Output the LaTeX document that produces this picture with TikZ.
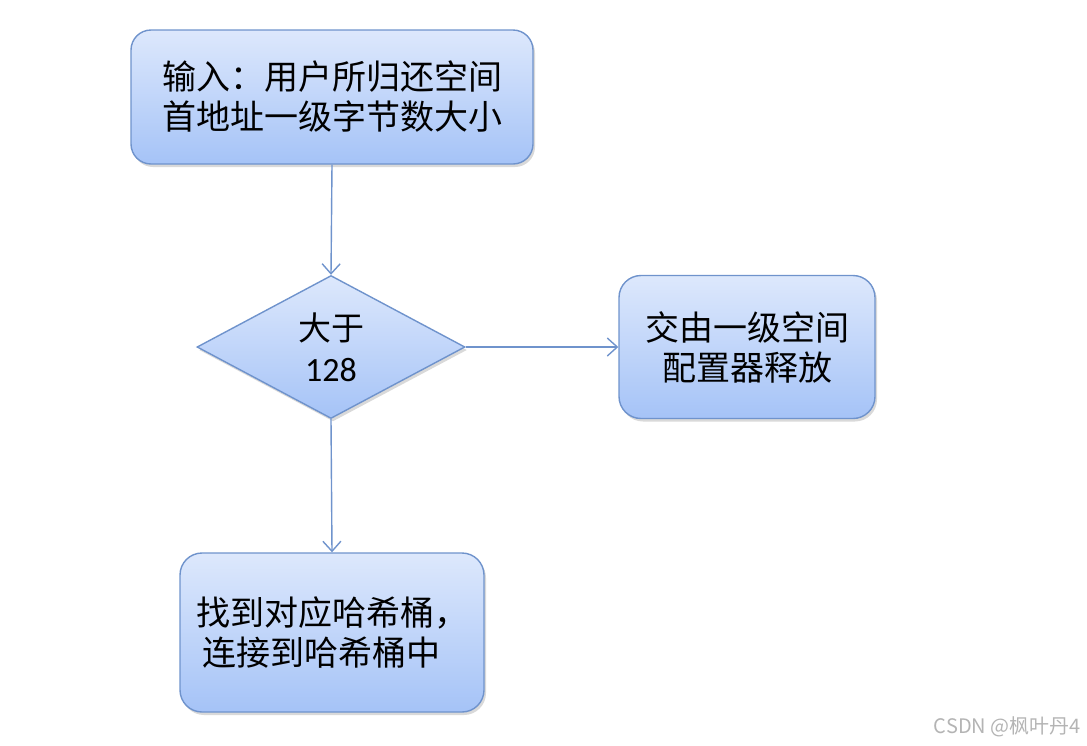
\documentclass[tikz,border=0pt]{standalone}
\usepackage{fontspec}
\newfontfamily\cjk{Noto Sans CJK SC}
\newfontfamily\numfont{Carlito}
\usetikzlibrary{shapes.geometric,arrows.meta,shadows}
\definecolor{edgeblue}{HTML}{6F93CC}
\definecolor{topfill}{HTML}{DDE8FC}
\definecolor{botfill}{HTML}{A5C3F7}
\definecolor{wmgray}{HTML}{B4B4B4}
\tikzset{
  flowbox/.style={draw=edgeblue, line width=1.4pt, rounded corners=20pt,
    top color=topfill, bottom color=botfill, inner sep=0pt,
    drop shadow={shadow xshift=2pt, shadow yshift=-3pt, opacity=0.25, fill=black!60},
    font=\cjk\fontsize{34}{40}\selectfont, text=black},
  decision/.style={diamond, draw=edgeblue, line width=1.4pt,
    top color=topfill, bottom color=botfill, inner sep=0pt, aspect=1.87,
    minimum width=268pt, minimum height=143pt,
    drop shadow={shadow xshift=2pt, shadow yshift=-3pt, opacity=0.25, fill=black!60},
    font=\cjk\fontsize{33}{41}\selectfont, text=black},
  flowline/.style={draw=edgeblue, line width=1.4pt, -{Straight Barb[length=10pt,width=18pt,line width=1.4pt]}},
}
\begin{document}
\begin{tikzpicture}[x=1pt,y=-1pt]
\useasboundingbox (0,0) rectangle (1087,745);
\node[flowbox, minimum width=402pt, minimum height=134pt, align=center] (input) at (332,97)
  {输入：用户所归还空间\\首地址一级字节数大小};
\node[decision, align=center] (dec) at (331,347) {大于\\{\numfont\fontsize{34}{40}\selectfont 128}};
\node[flowbox, minimum width=256pt, minimum height=143pt, rounded corners=22pt, align=center] (free) at (747,347)
  {交由一级空间\\配置器释放};
\node[flowbox, minimum width=304pt, minimum height=159pt, rounded corners=22pt, align=left] (hash) at (332,632.5)
  {找到对应哈希桶，\\\hspace*{0.2em}连接到哈希桶中};
\draw[flowline] (input.south) -- (dec.north);
\draw[flowline] (dec.east) -- (free.west);
\draw[flowline] (dec.south) -- (hash.north);
\node[anchor=east, text=wmgray, font=\cjk\fontsize{20}{22}\selectfont, inner sep=0pt] (wm) at (1081,727) {CSDN @枫叶丹4};
\end{tikzpicture}
\end{document}
